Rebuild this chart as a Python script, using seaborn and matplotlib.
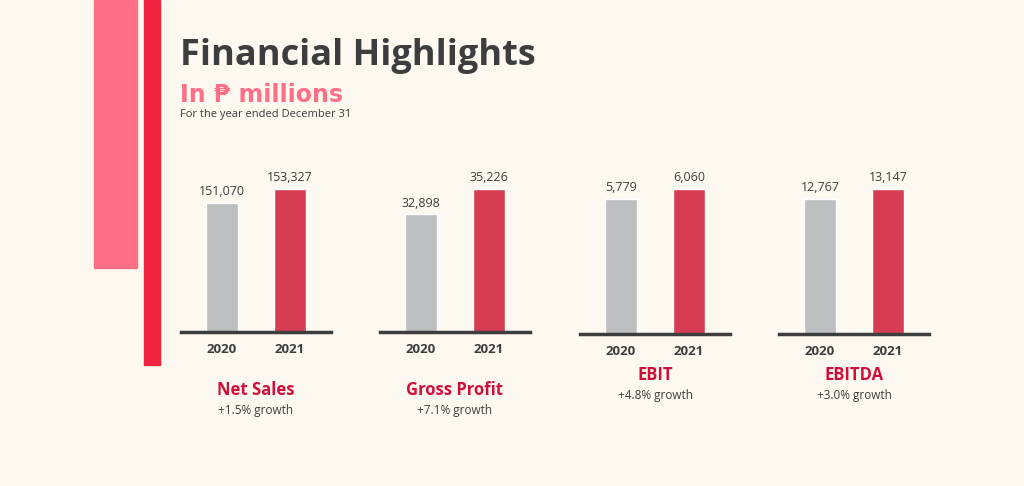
import matplotlib
matplotlib.use("Agg")
import matplotlib.pyplot as plt
import seaborn as sns
import pandas as pd

years = ["2020", "2021"]
metrics = ["Net Sales", "Gross Profit", "EBIT", "EBITDA"]
values_2020 = [151070, 32898, 5779, 12767]
values_2021 = [153327, 35226, 6060, 13147]
growth = ["+1.5% growth", "+7.1% growth", "+4.8% growth", "+3.0% growth"]
y_floor = [130000, 22000, 2000, 7600]   # truncated axis start, as in the original

bg = "#fdf9f1"
gray = "#bcbec0"
red = "#f0233f"
pink = "#ff6f85"
dark = "#3d3d3d"
label_red = "#d0103a"

sns.set_style("white")
plt.rcParams["font.family"] = ["Open Sans", "DejaVu Sans"]

W, H = 1024, 486
fig = plt.figure(figsize=(W / 100, H / 100), dpi=100, facecolor=bg)

# decorative stripes
fig.add_artist(plt.Rectangle((94 / W, 1 - 268 / H), 43 / W, 268 / H, color=pink, transform=fig.transFigure))
fig.add_artist(plt.Rectangle((144 / W, 1 - 365 / H), 16 / W, 365 / H, color=red, transform=fig.transFigure))

fig.text(180 / W, 1 - 56 / H, "Financial Highlights", fontsize=26, fontweight="bold", color=dark, va="center")
fig.text(180 / W, 1 - 95 / H, "In ₱ millions", fontsize=17, fontweight="bold", color=pink, va="center",
         family=["DejaVu Sans"])
fig.text(180 / W, 1 - 114 / H, "For the year ended December 31", fontsize=8, color=dark, va="center")

panel_x = [181, 380, 580, 779]
baseline = [332, 332, 334, 334]
label_y = [390, 390, 375, 375]

for i, name in enumerate(metrics):
    top_px = 150
    ax = fig.add_axes([panel_x[i] / W, 1 - baseline[i] / H, 150 / W, (baseline[i] - top_px) / H])
    df = pd.DataFrame({"year": years, "value": [values_2020[i], values_2021[i]]})
    sns.barplot(data=df, x="year", y="value", hue="year", palette=[gray, red],
                width=0.48, legend=False, ax=ax)
    b = y_floor[i]
    v2 = values_2021[i]
    frac = (baseline[i] - 189) / (baseline[i] - top_px)
    ax.set_ylim(b, b + (v2 - b) / frac)
    ax.set_xlim(-0.6, 1.6)
    ax.set_facecolor(bg)
    for s in ["top", "right", "left"]:
        ax.spines[s].set_visible(False)
    ax.spines["bottom"].set_linewidth(2.5)
    ax.spines["bottom"].set_color(dark)
    ax.set_yticks([])
    ax.set_xlabel("")
    ax.set_ylabel("")
    ax.tick_params(axis="x", length=0, pad=8, labelsize=9.5, labelcolor=dark)
    for t in ax.get_xticklabels():
        t.set_fontweight("bold")
    for j, v in enumerate(df["value"]):
        ax.text(j, v, f"{v:,}", ha="center", va="bottom", fontsize=9, color=dark,
                transform=ax.transData, clip_on=False).set_y(v + (ax.get_ylim()[1] - b) * 0.025)
    cx = (panel_x[i] + 75) / W
    fig.text(cx, 1 - label_y[i] / H, name, ha="center", va="center", fontsize=12,
             fontweight="bold", color=label_red)
    fig.text(cx, 1 - (label_y[i] + 20) / H, growth[i], ha="center", va="center", fontsize=8.5, color=dark)

fig.savefig("out.png", dpi=100, facecolor=bg)
